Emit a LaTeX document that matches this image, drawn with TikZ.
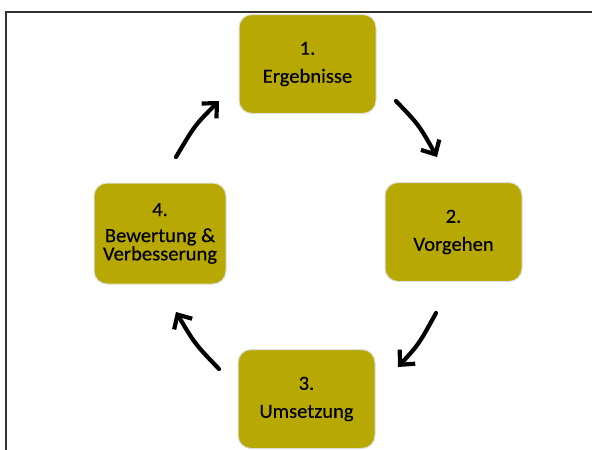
\documentclass[tikz,border=0pt]{standalone}
\usepackage{fontspec}
\setmainfont{Carlito}[FakeStretch=1.03,FakeBold=0.3]
\usetikzlibrary{arrows.meta}
\definecolor{boxolive}{RGB}{183,168,3}
\definecolor{framegray}{RGB}{50,50,50}
\begin{document}
\begin{tikzpicture}[x=1pt,y=-1pt,
  stepbox/.style={draw=gray!25,line width=1pt,fill=boxolive,rounded corners=13pt,
    minimum width=137pt,minimum height=99pt,align=center,inner sep=0pt,
    font=\fontsize{20}{17}\selectfont,text=black},
  cyclearrow/.style={line width=4.2pt,line cap=round,-{Straight Barb[length=11pt,width=21pt,line width=4.2pt]}}]
\useasboundingbox (0,0) rectangle (592,450);
\draw[framegray,line width=1.5pt] (6,450) -- (6,12) -- (592,12);
\node[stepbox] (n1) at (307.5,64) {1.\\[11pt]Ergebnisse};
\node[stepbox] (n2) at (453.5,232) {2.\\[11pt]Vorgehen};
\node[stepbox] (n3) at (306.5,399) {3.\\[11pt]Umsetzung};
\node[stepbox,minimum width=132pt,minimum height=101pt] (n4) at (160,233.5) {4.\\[9pt]Bewertung \&\\Verbesserung};
\coordinate (a1s) at (396,101); \coordinate (a1e) at (437,157);
\coordinate (a2s) at (436,313); \coordinate (a2e) at (398,367);
\coordinate (a3s) at (219,369); \coordinate (a3e) at (176,312);
\coordinate (a4s) at (176,157); \coordinate (a4e) at (219,101);
\draw[cyclearrow] (a1s) .. controls (419,125) .. (a1e);
\draw[cyclearrow] (a2s) .. controls (419,344) .. (a2e);
\draw[cyclearrow] (a3s) .. controls (195,344) .. (a3e);
\draw[cyclearrow] (a4s) .. controls (195,125) .. (a4e);
\end{tikzpicture}
\end{document}
